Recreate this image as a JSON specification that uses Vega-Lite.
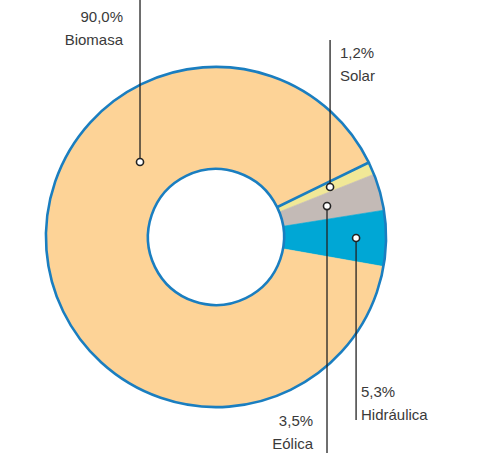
{
  "$schema": "https://vega.github.io/schema/vega-lite/v6.json",
  "width": 432,
  "height": 432,
  "padding": {"left": 0, "top": 21, "right": 52, "bottom": 0},
  "autosize": {"type": "none"},
  "background": "white",
  "view": {"stroke": null},
  "config": {"font": "Liberation Sans"},
  "datasets": {
    "fuentes": [
      {"fuente": "Solar", "valor": 1.2, "orden": 1},
      {"fuente": "Eólica", "valor": 3.5, "orden": 2},
      {"fuente": "Hidráulica", "valor": 5.3, "orden": 3},
      {"fuente": "Biomasa", "valor": 90.0, "orden": 4}
    ],
    "etiquetas": [
      {"fuente": "Biomasa", "texto": "90,0%\nBiomasa", "lado": "izquierda", "px": -0.447, "py": 0.441, "py2": 1.394, "tx": -0.547, "ty": 1.265},
      {"fuente": "Solar", "texto": "1,2%\nSolar", "lado": "derecha", "px": 0.671, "py": 0.294, "py2": 1.159, "tx": 0.729, "ty": 1.053},
      {"fuente": "Eólica", "texto": "3,5%\nEólica", "lado": "izquierda", "px": 0.653, "py": 0.182, "py2": -1.271, "tx": 0.571, "ty": -1.112},
      {"fuente": "Hidráulica", "texto": "5,3%\nHidráulica", "lado": "derecha", "px": 0.824, "py": -0.006, "py2": -1.076, "tx": 0.853, "ty": -0.941}
    ]
  },
  "layer": [
    {
      "data": {"name": "fuentes"},
      "mark": {"type": "arc", "outerRadius": 170, "innerRadius": 68, "strokeWidth": 0.6},
      "encoding": {
        "theta": {"field": "valor", "type": "quantitative", "stack": true, "scale": {"range": [1.117, 7.400185307]}},
        "order": {"field": "orden", "type": "quantitative"},
        "color": {"field": "fuente", "type": "nominal", "legend": null,
          "scale": {"domain": ["Biomasa", "Solar", "Eólica", "Hidráulica"], "range": ["#fdd397", "#f1e897", "#c3bab6", "#00a7d5"]}},
        "stroke": {"field": "fuente", "type": "nominal", "legend": null,
          "scale": {"domain": ["Biomasa", "Solar", "Eólica", "Hidráulica"], "range": ["#fdd397", "#f1e897", "#c3bab6", "#00a7d5"]}}
      }
    },
    {
      "data": {"name": "fuentes"},
      "mark": {"type": "arc", "outerRadius": 170, "innerRadius": 68, "filled": false, "stroke": "#1a7ec0", "strokeWidth": 2.6},
      "encoding": {
        "theta": {"aggregate": "sum", "field": "valor", "type": "quantitative"}
      }
    },
    {
      "data": {"name": "etiquetas"},
      "mark": {"type": "rule", "color": "#222222", "strokeWidth": 1.3},
      "encoding": {
        "x": {"field": "px", "type": "quantitative", "axis": null, "scale": {"domain": [-1.2706, 1.2706], "nice": false, "zero": false}},
        "y": {"field": "py", "type": "quantitative", "axis": null, "scale": {"domain": [-1.2706, 1.2706], "nice": false, "zero": false}},
        "y2": {"field": "py2"}
      }
    },
    {
      "data": {"name": "etiquetas"},
      "mark": {"type": "point", "shape": "circle", "filled": true, "fill": "white", "stroke": "#222222", "strokeWidth": 1.6, "size": 50, "opacity": 1},
      "encoding": {
        "x": {"field": "px", "type": "quantitative", "axis": null, "scale": {"domain": [-1.2706, 1.2706], "nice": false, "zero": false}},
        "y": {"field": "py", "type": "quantitative", "axis": null, "scale": {"domain": [-1.2706, 1.2706], "nice": false, "zero": false}}
      }
    },
    {
      "data": {"name": "etiquetas"},
      "transform": [{"filter": "datum.lado === 'izquierda'"}],
      "mark": {"type": "text", "align": "right", "baseline": "alphabetic", "lineBreak": "\n", "lineHeight": 23, "fontSize": 15, "color": "#3a3a3a"},
      "encoding": {
        "x": {"field": "tx", "type": "quantitative", "axis": null, "scale": {"domain": [-1.2706, 1.2706], "nice": false, "zero": false}},
        "y": {"field": "ty", "type": "quantitative", "axis": null, "scale": {"domain": [-1.2706, 1.2706], "nice": false, "zero": false}},
        "text": {"field": "texto"}
      }
    },
    {
      "data": {"name": "etiquetas"},
      "transform": [{"filter": "datum.lado === 'derecha'"}],
      "mark": {"type": "text", "align": "left", "baseline": "alphabetic", "lineBreak": "\n", "lineHeight": 23, "fontSize": 15, "color": "#3a3a3a"},
      "encoding": {
        "x": {"field": "tx", "type": "quantitative", "axis": null, "scale": {"domain": [-1.2706, 1.2706], "nice": false, "zero": false}},
        "y": {"field": "ty", "type": "quantitative", "axis": null, "scale": {"domain": [-1.2706, 1.2706], "nice": false, "zero": false}},
        "text": {"field": "texto"}
      }
    }
  ]
}
